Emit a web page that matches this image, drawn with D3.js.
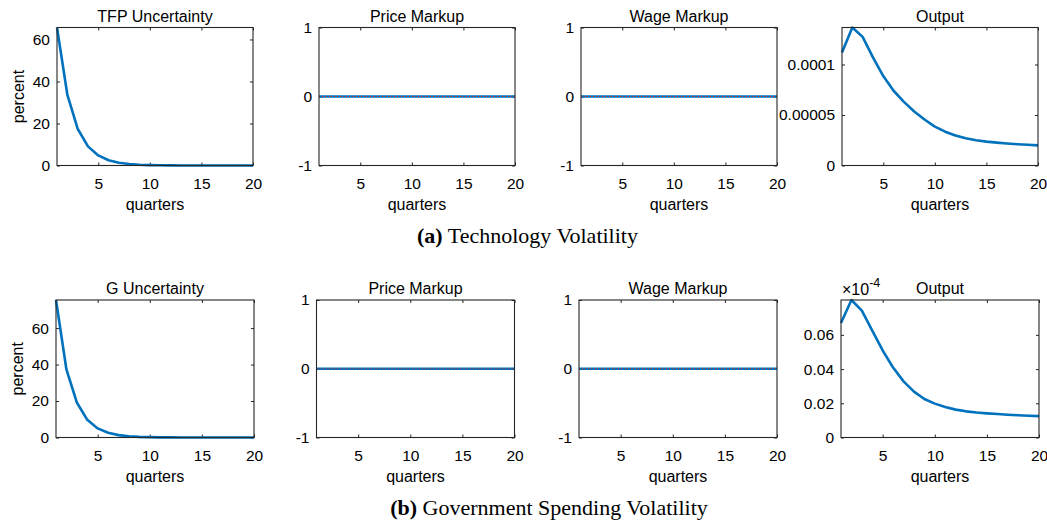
<!DOCTYPE html>
<html>
<head>
<meta charset="utf-8">
<script src="https://cdn.jsdelivr.net/npm/d3@7"></script>
<style>
  body { margin: 0; background: #fff; }
  svg { display: block; }
  text { font-family: "Liberation Sans", Arial, Helvetica, sans-serif; fill: #000; }
</style>
</head>
<body>
<svg id="Canvas" width="1047" height="523"></svg>
<script>
// horizon (quarters)
var quarters = [1, 2, 3, 4, 5, 6, 7, 8, 9, 10, 11, 12, 13, 14, 15, 16, 17, 18, 19, 20];
var xTicks = [5, 10, 15, 20];

// (a) technology volatility shock
var tfpUncertainty = [65.7, 33.8, 17.5, 9.1, 4.8, 2.5, 1.3, 0.7, 0.35, 0.18, 0.09, 0.05, 0.02, 0.01, 0.01, 0, 0, 0, 0, 0];
var tfpPriceMarkup = [0, 0, 0, 0, 0, 0, 0, 0, 0, 0, 0, 0, 0, 0, 0, 0, 0, 0, 0, 0];
var tfpWageMarkup = [0, 0, 0, 0, 0, 0, 0, 0, 0, 0, 0, 0, 0, 0, 0, 0, 0, 0, 0, 0];
var tfpOutput = [0.0001119, 0.0001366, 0.0001273, 0.000107, 0.0000885, 0.000074, 0.000063, 0.0000535, 0.0000455, 0.0000385,
  0.0000335, 0.0000297, 0.000027, 0.000025, 0.0000236, 0.0000226, 0.0000218, 0.0000211, 0.0000205, 0.0000199];

// (b) government spending volatility shock
var gUncertainty = [75.4, 37.3, 19.2, 9.7, 5.0, 2.6, 1.3, 0.7, 0.35, 0.18, 0.09, 0.05, 0.02, 0.01, 0.01, 0, 0, 0, 0, 0];
var gPriceMarkup = [0, 0, 0, 0, 0, 0, 0, 0, 0, 0, 0, 0, 0, 0, 0, 0, 0, 0, 0, 0];
var gWageMarkup = [0, 0, 0, 0, 0, 0, 0, 0, 0, 0, 0, 0, 0, 0, 0, 0, 0, 0, 0, 0];
var gOutput = [0.067, 0.0804, 0.0742, 0.0625, 0.0509, 0.0409, 0.0328, 0.0268, 0.0225, 0.0198,
  0.0178, 0.0163, 0.0153, 0.0146, 0.0141, 0.0137, 0.0133, 0.013, 0.0127, 0.0125];

// titles and y ticks
var titles = ["TFP Uncertainty", "Price Markup", "Wage Markup", "Output"];
var titlesG = ["G Uncertainty", "Price Markup", "Wage Markup", "Output"];
var yTicksUnc = [0, 20, 40, 60];
var yTicksMarkup = [-1, 0, 1];
var yTicksTfpOutput = [0, 0.00005, 0.0001];
var yTicksGOutput = [0, 0.02, 0.04, 0.06];
var captions = ["Technology Volatility", "Government Spending Volatility"];

class Panel {
  constructor(svg, box) {
    this.svg = svg;
    this.box = box;
    this.g = svg.append("g");
  }

  scales(xDomain, yDomain) {
    this.x = d3.scaleLinear().domain(xDomain).range([this.box.left, this.box.left + this.box.width]);
    this.y = d3.scaleLinear().domain(yDomain).range([this.box.bottom, this.box.top]);
  }

  axes(yTicks, fmt) {
    var b = this.box;
    var g = this.g;

    var ax = g.append("g").attr("transform", "translate(0," + b.bottom + ")")
      .call(d3.axisBottom(this.x).tickValues(xTicks).tickSizeInner(-3).tickSizeOuter(0).tickPadding(12));
    var at = g.append("g").attr("transform", "translate(0," + b.top + ")")
      .call(d3.axisTop(this.x).tickValues(xTicks).tickSizeInner(-3).tickSizeOuter(0).tickFormat(""));
    var ay = g.append("g").attr("transform", "translate(" + b.left + ",0)")
      .call(d3.axisLeft(this.y).tickValues(yTicks).tickSizeInner(-3).tickSizeOuter(0).tickPadding(7).tickFormat(fmt));
    var ar = g.append("g").attr("transform", "translate(" + (b.left + b.width) + ",0)")
      .call(d3.axisRight(this.y).tickValues(yTicks).tickSizeInner(-3).tickSizeOuter(0).tickFormat(""));

    [ax, at, ay, ar].forEach(function (a) {
      a.select(".domain").remove();
      a.selectAll("line").style("stroke", "#262626");
      a.selectAll("text")
        .style("font-family", '"Liberation Sans", Arial, sans-serif')
        .style("font-size", "15.5px")
        .style("fill", "#000");
    });
  }

  frame() {
    var b = this.box;
    this.g.append("rect")
      .attr("x", b.left)
      .attr("y", b.top)
      .attr("width", b.width)
      .attr("height", b.bottom - b.top)
      .style("fill", "none")
      .style("stroke", "#262626")
      .style("stroke-width", 1.1);
  }

  series(values) {
    var self = this;
    var line = d3.line()
      .x(function (d, i) { return self.x(quarters[i]); })
      .y(function (d) { return self.y(d); });

    this.g.append("path")
      .datum(values)
      .attr("d", line)
      .style("fill", "none")
      .style("stroke", "#0072BD")
      .style("stroke-width", 2.6)
      .style("stroke-linejoin", "round");

    // zero reference line
    this.g.append("line")
      .attr("x1", this.x(1))
      .attr("x2", this.x(20))
      .attr("y1", this.y(0))
      .attr("y2", this.y(0))
      .style("stroke", "#e8261e")
      .style("stroke-width", 1)
      .style("stroke-dasharray", "1,2");
  }

  labels(title, ylabel) {
    var b = this.box;
    var cx = b.left + b.width / 2;
    this.g.append("text")
      .attr("x", cx)
      .attr("y", b.top - 6)
      .attr("text-anchor", "middle")
      .style("font-size", "16px")
      .text(title);

    this.g.append("text")
      .attr("x", cx)
      .attr("y", b.bottom + 44.5)
      .attr("text-anchor", "middle")
      .style("font-size", "16px")
      .text("quarters");

    if (ylabel) {
      var cy = (b.top + b.bottom) / 2;
      this.g.append("text")
        .attr("transform", "translate(" + (b.left - 33) + "," + cy + ") rotate(-90)")
        .attr("text-anchor", "middle")
        .style("font-size", "16px")
        .text(ylabel);
    }
  }
}

function numFmt(d) {
  return d === 0 ? "0" : String(+d.toFixed(6));
}

function drawRow(svg, row, rowTitles, data, yDomains, yTickSets) {
  var panels = [];
  for (let i = 0; i < 4; i++) {
    var box = { left: row.lefts[i], width: row.width, top: row.top, bottom: row.bottom };
    var p = new Panel(svg, box);
    p.scales([1, 20], yDomains[i]);
    p.axes(yTickSets[i], numFmt);
    p.series(data[i]);
    p.frame();
    p.labels(rowTitles[i], i === 0 ? "percent" : null);
    panels.push(p);
  }
  return panels;
}

function caption(svg, x, y, tag, text) {
  var t = svg.append("text")
    .attr("x", x)
    .attr("y", y)
    .attr("text-anchor", "middle")
    .style("font-family", '"Liberation Serif", "DejaVu Serif", serif')
    .style("font-size", "22px");
  t.append("tspan").style("font-weight", "bold").text(tag);
  t.append("tspan").text(" " + text);
}

var svg = d3.select("#Canvas");

var topRow = { lefts: [57, 319, 581, 842], width: 196, top: 27.5, bottom: 165.5 };
var bottomRow = { lefts: [56, 316.5, 579, 841], width: 198, top: 300, bottom: 437.5 };

drawRow(svg, topRow, titles,
  [tfpUncertainty, tfpPriceMarkup, tfpWageMarkup, tfpOutput],
  [[0, d3.max(tfpUncertainty)], [-1, 1], [-1, 1], [0, d3.max(tfpOutput)]],
  [yTicksUnc, yTicksMarkup, yTicksMarkup, yTicksTfpOutput]);

var bottomPanels = drawRow(svg, bottomRow, titlesG,
  [gUncertainty, gPriceMarkup, gWageMarkup, gOutput],
  [[0, d3.max(gUncertainty)], [-1, 1], [-1, 1], [0, d3.max(gOutput)]],
  [yTicksUnc, yTicksMarkup, yTicksMarkup, yTicksGOutput]);

// exponent label of the last panel
var ob = bottomPanels[3].box;
var ex = svg.append("text")
  .attr("x", ob.left + 1)
  .attr("y", ob.top - 5)
  .style("font-size", "16px");
ex.append("tspan").text("\u00d710");
ex.append("tspan").attr("dy", -8).style("font-size", "12.5px").text("-4");

caption(svg, 527.5, 243, "(a)", captions[0]);
caption(svg, 549, 515, "(b)", captions[1]);
</script>
</body>
</html>
